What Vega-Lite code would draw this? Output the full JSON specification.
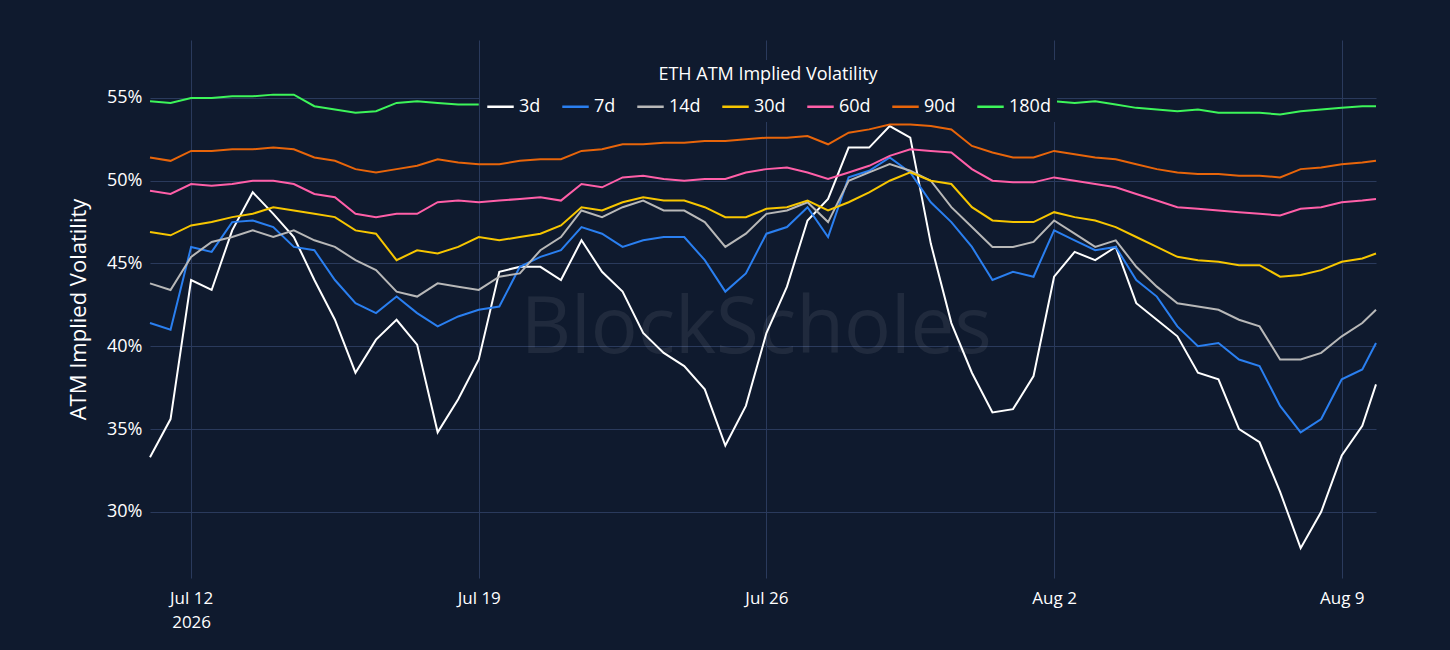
{
  "$schema": "https://vega.github.io/schema/vega-lite/v6.json",
  "autosize": {"type": "fit", "contains": "padding"},
  "width": 1450,
  "height": 650,
  "background": "#0f1a2e",
  "padding": {"left": 67, "right": 70, "top": 40, "bottom": 20},
  "config": {
    "view": {"stroke": null},
    "font": "Open Sans",
    "axis": {"gridColor": "#2a3a5c", "domain": false, "ticks": false, "labelColor": "#ffffff", "titleColor": "#ffffff", "labelFont": "Open Sans", "titleFont": "Open Sans"}
  },
  "layer": [
    {
      "data": {"values": [{"t": "2026-07-25T18:00", "v": 41}]},
      "mark": {"type": "text", "text": "BlockScholes", "fontSize": 78, "color": "#ffffff", "opacity": 0.07, "font": "Open Sans"},
      "encoding": {
        "x": {"field": "t", "type": "temporal"},
        "y": {"field": "v", "type": "quantitative"}
      }
    },
    {
      "data": {"values": [
        {"t":"2026-07-11T00:00","3d":33.3,"7d":41.4,"14d":43.8,"30d":46.9,"60d":49.4,"90d":51.4,"180d":54.8},
        {"t":"2026-07-11T12:00","3d":35.6,"7d":41.0,"14d":43.4,"30d":46.7,"60d":49.2,"90d":51.2,"180d":54.7},
        {"t":"2026-07-12T00:00","3d":44.0,"7d":46.0,"14d":45.4,"30d":47.3,"60d":49.8,"90d":51.8,"180d":55.0},
        {"t":"2026-07-12T12:00","3d":43.4,"7d":45.7,"14d":46.3,"30d":47.5,"60d":49.7,"90d":51.8,"180d":55.0},
        {"t":"2026-07-13T00:00","3d":47.0,"7d":47.5,"14d":46.6,"30d":47.8,"60d":49.8,"90d":51.9,"180d":55.1},
        {"t":"2026-07-13T12:00","3d":49.3,"7d":47.6,"14d":47.0,"30d":48.0,"60d":50.0,"90d":51.9,"180d":55.1},
        {"t":"2026-07-14T00:00","3d":48.0,"7d":47.2,"14d":46.6,"30d":48.4,"60d":50.0,"90d":52.0,"180d":55.2},
        {"t":"2026-07-14T12:00","3d":46.6,"7d":46.0,"14d":47.0,"30d":48.2,"60d":49.8,"90d":51.9,"180d":55.2},
        {"t":"2026-07-15T00:00","3d":44.0,"7d":45.8,"14d":46.4,"30d":48.0,"60d":49.2,"90d":51.4,"180d":54.5},
        {"t":"2026-07-15T12:00","3d":41.6,"7d":44.0,"14d":46.0,"30d":47.8,"60d":49.0,"90d":51.2,"180d":54.3},
        {"t":"2026-07-16T00:00","3d":38.4,"7d":42.6,"14d":45.2,"30d":47.0,"60d":48.0,"90d":50.7,"180d":54.1},
        {"t":"2026-07-16T12:00","3d":40.4,"7d":42.0,"14d":44.6,"30d":46.8,"60d":47.8,"90d":50.5,"180d":54.2},
        {"t":"2026-07-17T00:00","3d":41.6,"7d":43.0,"14d":43.3,"30d":45.2,"60d":48.0,"90d":50.7,"180d":54.7},
        {"t":"2026-07-17T12:00","3d":40.1,"7d":42.0,"14d":43.0,"30d":45.8,"60d":48.0,"90d":50.9,"180d":54.8},
        {"t":"2026-07-18T00:00","3d":34.8,"7d":41.2,"14d":43.8,"30d":45.6,"60d":48.7,"90d":51.3,"180d":54.7},
        {"t":"2026-07-18T12:00","3d":36.8,"7d":41.8,"14d":43.6,"30d":46.0,"60d":48.8,"90d":51.1,"180d":54.6},
        {"t":"2026-07-19T00:00","3d":39.2,"7d":42.2,"14d":43.4,"30d":46.6,"60d":48.7,"90d":51.0,"180d":54.6},
        {"t":"2026-07-19T12:00","3d":44.5,"7d":42.4,"14d":44.2,"30d":46.4,"60d":48.8,"90d":51.0,"180d":null},
        {"t":"2026-07-20T00:00","3d":44.8,"7d":44.8,"14d":44.4,"30d":46.6,"60d":48.9,"90d":51.2,"180d":null},
        {"t":"2026-07-20T12:00","3d":44.8,"7d":45.4,"14d":45.8,"30d":46.8,"60d":49.0,"90d":51.3,"180d":null},
        {"t":"2026-07-21T00:00","3d":44.0,"7d":45.8,"14d":46.6,"30d":47.3,"60d":48.8,"90d":51.3,"180d":null},
        {"t":"2026-07-21T12:00","3d":46.4,"7d":47.2,"14d":48.2,"30d":48.4,"60d":49.8,"90d":51.8,"180d":null},
        {"t":"2026-07-22T00:00","3d":44.5,"7d":46.8,"14d":47.8,"30d":48.2,"60d":49.6,"90d":51.9,"180d":null},
        {"t":"2026-07-22T12:00","3d":43.3,"7d":46.0,"14d":48.4,"30d":48.7,"60d":50.2,"90d":52.2,"180d":null},
        {"t":"2026-07-23T00:00","3d":40.8,"7d":46.4,"14d":48.8,"30d":49.0,"60d":50.3,"90d":52.2,"180d":null},
        {"t":"2026-07-23T12:00","3d":39.6,"7d":46.6,"14d":48.2,"30d":48.8,"60d":50.1,"90d":52.3,"180d":null},
        {"t":"2026-07-24T00:00","3d":38.8,"7d":46.6,"14d":48.2,"30d":48.8,"60d":50.0,"90d":52.3,"180d":null},
        {"t":"2026-07-24T12:00","3d":37.4,"7d":45.2,"14d":47.5,"30d":48.4,"60d":50.1,"90d":52.4,"180d":null},
        {"t":"2026-07-25T00:00","3d":34.0,"7d":43.3,"14d":46.0,"30d":47.8,"60d":50.1,"90d":52.4,"180d":null},
        {"t":"2026-07-25T12:00","3d":36.4,"7d":44.4,"14d":46.8,"30d":47.8,"60d":50.5,"90d":52.5,"180d":null},
        {"t":"2026-07-26T00:00","3d":40.8,"7d":46.8,"14d":48.0,"30d":48.3,"60d":50.7,"90d":52.6,"180d":null},
        {"t":"2026-07-26T12:00","3d":43.6,"7d":47.2,"14d":48.2,"30d":48.4,"60d":50.8,"90d":52.6,"180d":null},
        {"t":"2026-07-27T00:00","3d":47.6,"7d":48.4,"14d":48.7,"30d":48.8,"60d":50.5,"90d":52.7,"180d":null},
        {"t":"2026-07-27T12:00","3d":48.9,"7d":46.6,"14d":47.5,"30d":48.2,"60d":50.1,"90d":52.2,"180d":null},
        {"t":"2026-07-28T00:00","3d":52.0,"7d":50.2,"14d":50.0,"30d":48.7,"60d":50.5,"90d":52.9,"180d":null},
        {"t":"2026-07-28T12:00","3d":52.0,"7d":50.6,"14d":50.5,"30d":49.3,"60d":50.9,"90d":53.1,"180d":null},
        {"t":"2026-07-29T00:00","3d":53.3,"7d":51.4,"14d":51.0,"30d":50.0,"60d":51.5,"90d":53.4,"180d":null},
        {"t":"2026-07-29T12:00","3d":52.6,"7d":50.5,"14d":50.6,"30d":50.5,"60d":51.9,"90d":53.4,"180d":null},
        {"t":"2026-07-30T00:00","3d":46.2,"7d":48.7,"14d":50.0,"30d":50.0,"60d":51.8,"90d":53.3,"180d":null},
        {"t":"2026-07-30T12:00","3d":41.4,"7d":47.5,"14d":48.4,"30d":49.8,"60d":51.7,"90d":53.1,"180d":null},
        {"t":"2026-07-31T00:00","3d":38.4,"7d":46.0,"14d":47.2,"30d":48.4,"60d":50.7,"90d":52.1,"180d":null},
        {"t":"2026-07-31T12:00","3d":36.0,"7d":44.0,"14d":46.0,"30d":47.6,"60d":50.0,"90d":51.7,"180d":null},
        {"t":"2026-08-01T00:00","3d":36.2,"7d":44.5,"14d":46.0,"30d":47.5,"60d":49.9,"90d":51.4,"180d":null},
        {"t":"2026-08-01T12:00","3d":38.2,"7d":44.2,"14d":46.3,"30d":47.5,"60d":49.9,"90d":51.4,"180d":null},
        {"t":"2026-08-02T00:00","3d":44.2,"7d":47.0,"14d":47.6,"30d":48.1,"60d":50.2,"90d":51.8,"180d":54.8},
        {"t":"2026-08-02T12:00","3d":45.7,"7d":46.4,"14d":46.8,"30d":47.8,"60d":50.0,"90d":51.6,"180d":54.7},
        {"t":"2026-08-03T00:00","3d":45.2,"7d":45.8,"14d":46.0,"30d":47.6,"60d":49.8,"90d":51.4,"180d":54.8},
        {"t":"2026-08-03T12:00","3d":46.0,"7d":46.0,"14d":46.4,"30d":47.2,"60d":49.6,"90d":51.3,"180d":54.6},
        {"t":"2026-08-04T00:00","3d":42.6,"7d":44.0,"14d":44.8,"30d":46.6,"60d":49.2,"90d":51.0,"180d":54.4},
        {"t":"2026-08-04T12:00","3d":41.6,"7d":43.0,"14d":43.6,"30d":46.0,"60d":48.8,"90d":50.7,"180d":54.3},
        {"t":"2026-08-05T00:00","3d":40.6,"7d":41.2,"14d":42.6,"30d":45.4,"60d":48.4,"90d":50.5,"180d":54.2},
        {"t":"2026-08-05T12:00","3d":38.4,"7d":40.0,"14d":42.4,"30d":45.2,"60d":48.3,"90d":50.4,"180d":54.3},
        {"t":"2026-08-06T00:00","3d":38.0,"7d":40.2,"14d":42.2,"30d":45.1,"60d":48.2,"90d":50.4,"180d":54.1},
        {"t":"2026-08-06T12:00","3d":35.0,"7d":39.2,"14d":41.6,"30d":44.9,"60d":48.1,"90d":50.3,"180d":54.1},
        {"t":"2026-08-07T00:00","3d":34.2,"7d":38.8,"14d":41.2,"30d":44.9,"60d":48.0,"90d":50.3,"180d":54.1},
        {"t":"2026-08-07T12:00","3d":31.2,"7d":36.4,"14d":39.2,"30d":44.2,"60d":47.9,"90d":50.2,"180d":54.0},
        {"t":"2026-08-08T00:00","3d":27.8,"7d":34.8,"14d":39.2,"30d":44.3,"60d":48.3,"90d":50.7,"180d":54.2},
        {"t":"2026-08-08T12:00","3d":30.0,"7d":35.6,"14d":39.6,"30d":44.6,"60d":48.4,"90d":50.8,"180d":54.3},
        {"t":"2026-08-09T00:00","3d":33.4,"7d":38.0,"14d":40.6,"30d":45.1,"60d":48.7,"90d":51.0,"180d":54.4},
        {"t":"2026-08-09T12:00","3d":35.2,"7d":38.6,"14d":41.4,"30d":45.3,"60d":48.8,"90d":51.1,"180d":54.5},
        {"t":"2026-08-09T20:00","3d":37.7,"7d":40.2,"14d":42.2,"30d":45.6,"60d":48.9,"90d":51.2,"180d":54.5}
      ]},
      "transform": [
        {"fold": ["3d", "7d", "14d", "30d", "60d", "90d", "180d"], "as": ["tenor", "iv"]}
      ],
      "mark": {"type": "line", "strokeWidth": 2, "interpolate": "linear"},
      "encoding": {
        "x": {
          "field": "t", "type": "temporal", "title": null,
          "axis": {
            "values": [{"year": 2026, "month": 7, "date": 12}, {"year": 2026, "month": 7, "date": 19}, {"year": 2026, "month": 7, "date": 26}, {"year": 2026, "month": 8, "date": 2}, {"year": 2026, "month": 8, "date": 9}],
            "labelExpr": "month(datum.value) == 6 && date(datum.value) == 12 ? [timeFormat(datum.value, '%b %-d'), '2026'] : timeFormat(datum.value, '%b %-d')",
            "labelFontSize": 17, "labelPadding": 12, "labelLineHeight": 24
          }
        },
        "y": {
          "field": "iv", "type": "quantitative", "title": "ATM Implied Volatility",
          "scale": {"domain": [26, 58.5], "nice": false, "zero": false},
          "axis": {"values": [30, 35, 40, 45, 50, 55], "labelExpr": "datum.value + '%'", "labelFontSize": 18, "titleFontSize": 22, "titleFontWeight": "normal", "labelPadding": 8, "titlePadding": 16}
        },
        "color": {
          "field": "tenor", "type": "nominal",
          "scale": {
            "domain": ["3d", "7d", "14d", "30d", "60d", "90d", "180d"],
            "range": ["#ffffff", "#2a7ff0", "#b8b8b8", "#f7c600", "#ff5fa8", "#e8650a", "#3df55a"]
          },
          "legend": {
            "orient": "none", "legendX": 330, "legendY": 20, "direction": "horizontal",
            "title": "ETH ATM Implied Volatility", "titleLimit": 600, "titleAnchor": "middle", "titleColor": "#ffffff", "titleFontSize": 18, "titleFontWeight": "normal", "titlePadding": 8,
            "labelColor": "#ffffff", "labelFontSize": 18, "symbolType": "stroke", "symbolSize": 700, "symbolStrokeWidth": 2.5, "columnPadding": 16,
            "fillColor": "#0f1a2e", "padding": 6
          }
        }
      }
    }
  ]
}
